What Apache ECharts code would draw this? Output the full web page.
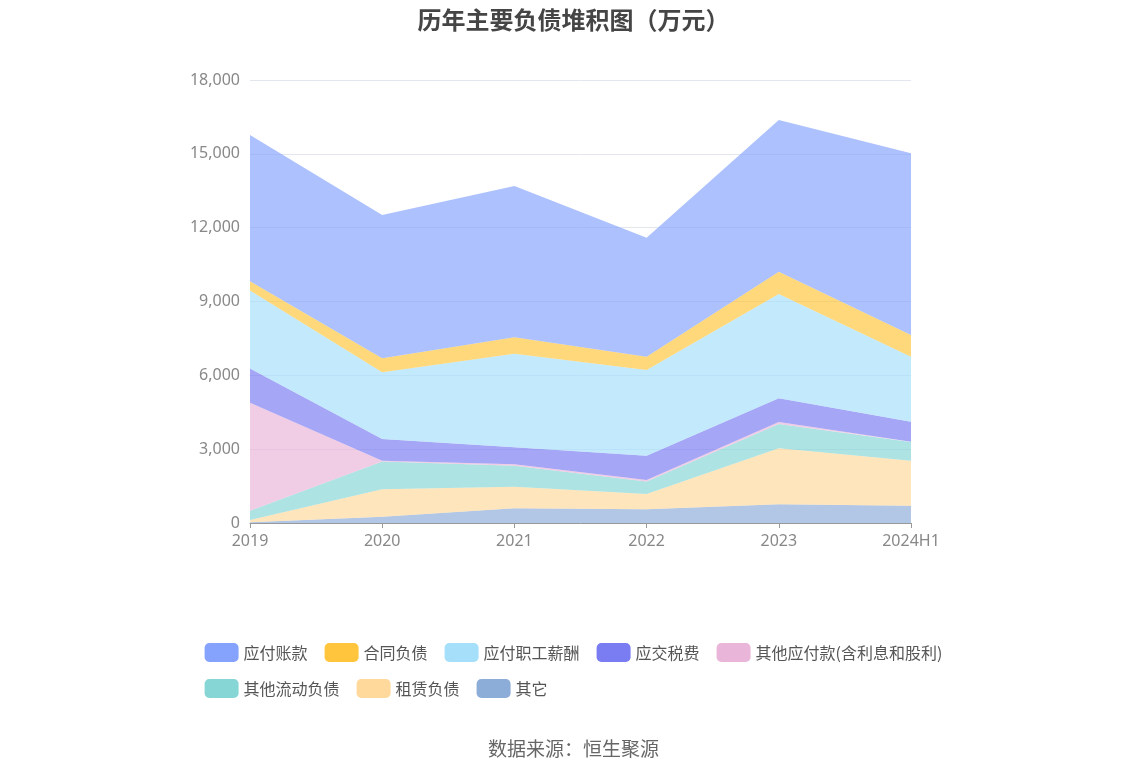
<!DOCTYPE html>
<html>
<head>
<meta charset="utf-8">
<script src="https://cdn.jsdelivr.net/npm/echarts@6/dist/echarts.min.js"></script>
<style>html,body{margin:0;padding:0;background:#fff;}#c{width:1147px;height:776px;}</style>
</head>
<body>
<div id="c"></div>
<script>
const categories = ['2019','2020','2021','2022','2023','2024H1'];
const yTicks = [0, 3000, 6000, 9000, 12000, 15000, 18000];
const names = ['应付账款','合同负债','应付职工薪酬','应交税费','其他应付款(含利息和股利)','其他流动负债','租赁负债','其它'];
const colors = ['#85a3fc','#ffc53d','#a6dffa','#7a7cf2','#e9b6d9','#86d6d6','#ffd99b','#8dadd9'];
// values (万元)
const yingfuZhangkuan = [5945, 5824, 6148, 4834, 6162, 7383];
const hetongFuzhai    = [370, 560, 664, 542, 908, 880];
const zhigongXinchou  = [3170, 2717, 3806, 3480, 4238, 2641];
const yingjiaoShuifei = [1390, 883, 689, 989, 962, 814];
const qitaYingfu      = [4390, 30, 55, 60, 80, 15];
const qitaLiudong     = [380, 1125, 855, 508, 987, 759];
const zulinFuzhai     = [90, 1125, 875, 618, 2275, 1831];
const qita            = [30, 250, 600, 560, 760, 700];

const dataList = [yingfuZhangkuan, hetongFuzhai, zhigongXinchou, yingjiaoShuifei, qitaYingfu, qitaLiudong, zulinFuzhai, qita];
// stacking order from bottom: 其它 first
const order = [7,6,5,4,3,2,1,0];
const series = order.map(i => ({
  name: names[i],
  type: 'line',
  stack: 'total',
  data: dataList[i],
  symbol: 'none',
  showSymbol: false,
  lineStyle: { width: 0 },
  areaStyle: { color: colors[i], opacity: 0.68 },
  itemStyle: { color: colors[i] },
  emphasis: { disabled: true }
}));

const chart = echarts.init(document.getElementById('c'));
chart.setOption({
  animation: false,
  title: {
    text: '历年主要负债堆积图（万元）',
    left: 'center', top: 3,
    textStyle: { fontSize: 24, fontWeight: 'bold', color: '#454545', fontFamily: 'Noto Sans CJK SC' }
  },
  legend: {
    data: names.map((n, i) => ({ name: n, itemStyle: { color: colors[i], opacity: 1 } })),
    left: 'center', top: 638, width: 790,
    itemWidth: 34, itemHeight: 19, itemGap: 17,
    icon: 'roundRect',
    textStyle: { fontSize: 16, color: '#555', fontFamily: 'Noto Sans CJK SC' }
  },
  grid: { left: 250, right: 236, top: 80, bottom: 253, containLabel: false },
  xAxis: {
    type: 'category', data: categories, boundaryGap: false,
    axisLine: { lineStyle: { color: '#999' } },
    axisTick: { show: true, alignWithLabel: true, lineStyle: { color: '#999' } },
    axisLabel: { fontSize: 16, color: '#888', margin: 10, fontFamily: 'Noto Sans' }
  },
  yAxis: {
    type: 'value', min: 0, max: 18000, interval: 3000,
    axisLine: { show: false }, axisTick: { show: false },
    splitLine: { lineStyle: { color: '#e3e6ee' } },
    axisLabel: { fontSize: 16, color: '#888', margin: 10, fontFamily: 'Noto Sans',
      formatter: v => yTicks.includes(v) ? v.toLocaleString('en-US') : '' }
  },
  graphic: [{
    type: 'text', left: 'center', top: 739,
    style: { text: '数据来源：恒生聚源', fontSize: 19, fill: '#666', fontFamily: 'Noto Sans CJK SC' }
  }],
  series: series
});
</script>
</body>
</html>
